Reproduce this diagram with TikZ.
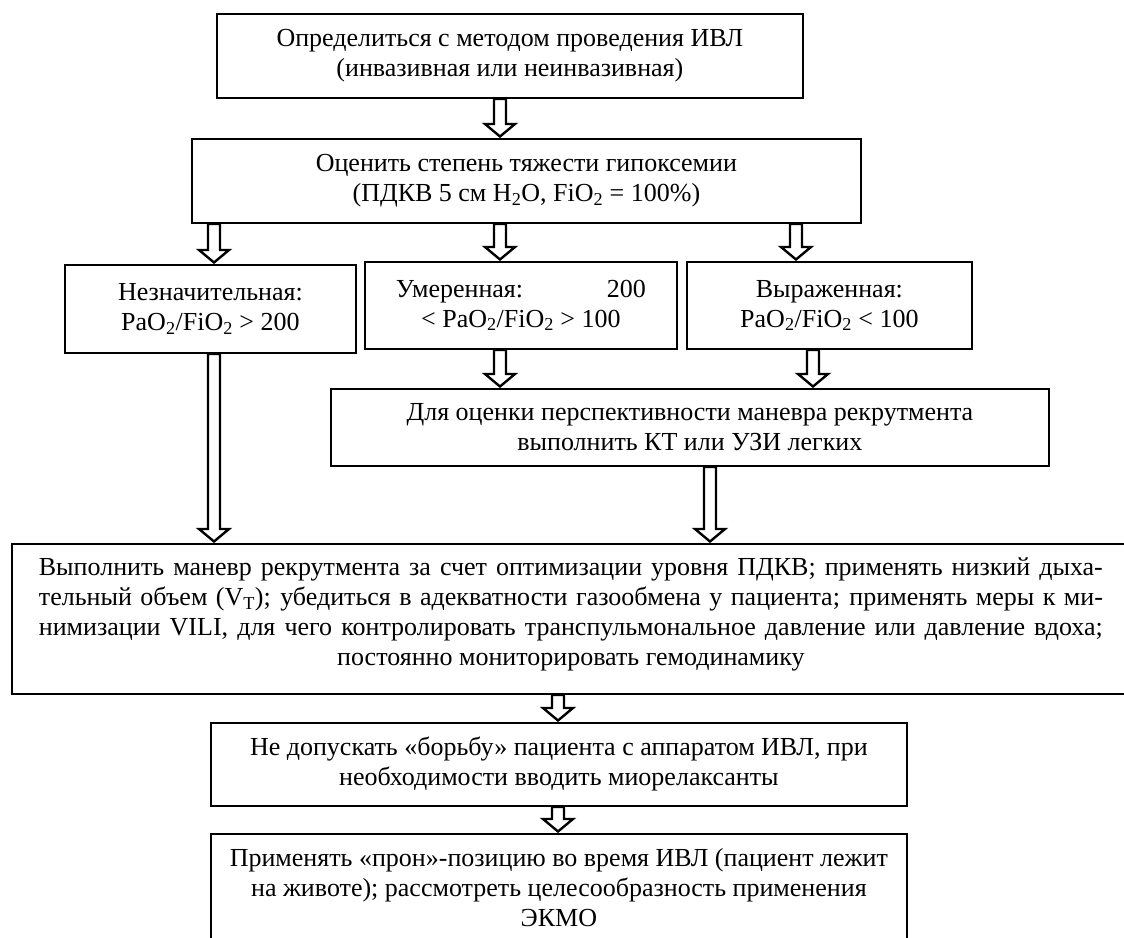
\documentclass[tikz,border=0pt]{standalone}
\usepackage{fontspec}
\setmainfont{Liberation Serif}
\usetikzlibrary{calc}
\newcommand{\fs}{\fontsize{26pt}{30pt}\selectfont}
\newcommand{\sub}[1]{\textsubscript{#1}}
\tikzset{
  box/.style={draw, line width=1.8pt, inner sep=0pt, align=center, anchor=north west, font=\fs},
  blockarrow/.style={draw=black, line width=2.4pt, fill=white, miter limit=10,
    to path={let \p1=(\tikztostart), \p2=(\tikztotarget) in
      (\x1-6pt,\y1) -- (\x1-6pt,\y2+14pt) -- (\x1-15pt,\y2+14pt) -- (\x1,\y2+1.5pt)
      -- (\x1+15pt,\y2+14pt) -- (\x1+6pt,\y2+14pt) -- (\x1+6pt,\y1) -- cycle}}
}
\begin{document}
\begin{tikzpicture}[x=1pt,y=-1pt]
\clip (0,0) rectangle (1124,937);
\fill[white] (0,0) rectangle (1124,937);

\node[box, minimum width=586pt, minimum height=84pt] (b1) at (216,13)
  {Определиться с методом проведения ИВЛ\\(инвазивная или неинвазивная)};
\node[box, minimum width=669pt, minimum height=84pt] (b2) at (191,138)
  {Оценить степень тяжести гипоксемии\\(ПДКВ 5 см H\sub{2}O, FiO\sub{2} = 100\%)};
\node[box, minimum width=291pt, minimum height=88pt] (n3a) at (64,264)
  {Незначительная:\\PaO\sub{2}/FiO\sub{2} > 200};
\node[box, minimum width=312pt, minimum height=87pt] (n3b) at (364,261)
  {\hbox to 250pt{Умеренная:\hfill 200}\\< PaO\sub{2}/FiO\sub{2} > 100};
\node[box, minimum width=285pt, minimum height=87pt] (n3c) at (686,261)
  {Выраженная:\\PaO\sub{2}/FiO\sub{2} < 100};
\node[box, minimum width=718pt, minimum height=77pt] (b4) at (330,388)
  {Для оценки перспективности маневра рекрутмента\\выполнить КТ или УЗИ легких};
\node[box, minimum width=1118pt, minimum height=150pt, text depth=15pt] (b5) at (11,543)
  {\hbox to 1064pt{Выполнить маневр рекрутмента за счет оптимизации уровня ПДКВ; применять низкий дыха-}\\
   \hbox to 1064pt{тельный объем (V\sub{T}); убедиться в адекватности газообмена у пациента; применять меры к ми-}\\
   \hbox to 1064pt{нимизации VILI, для чего контролировать транспульмональное давление или давление вдоха;}\\
   постоянно мониторировать гемодинамику};
\node[box, minimum width=696pt, minimum height=83pt] (b6) at (210,722)
  {Не допускать «борьбу» пациента с аппаратом ИВЛ, при\\необходимости вводить миорелаксанты};
\node[box, minimum width=696pt, minimum height=108pt] (b7) at (210,833)
  {Применять «прон»-позицию во время ИВЛ (пациент лежит\\на животе); рассмотреть целесообразность применения\\ЭКМО};

\coordinate (xa) at (214,0);
\coordinate (xb) at (500,0);
\coordinate (xc) at (796,0);
\coordinate (xd) at (813,0);
\coordinate (xe) at (710,0);
\coordinate (xf) at (558,0);

\draw[blockarrow] (b1.south -| xb) to (b2.north -| xb);
\draw[blockarrow] (b2.south -| xa) to (n3a.north -| xa);
\draw[blockarrow] (b2.south -| xb) to (n3b.north -| xb);
\draw[blockarrow] (b2.south -| xc) to (n3c.north -| xc);
\draw[blockarrow] (n3b.south -| xb) to (b4.north -| xb);
\draw[blockarrow] (n3c.south -| xd) to (b4.north -| xd);
\draw[blockarrow] (n3a.south -| xa) to (b5.north -| xa);
\draw[blockarrow] (b4.south -| xe) to (b5.north -| xe);
\draw[blockarrow] (b5.south -| xf) to (b6.north -| xf);
\draw[blockarrow] (b6.south -| xf) to (b7.north -| xf);
\end{tikzpicture}
\end{document}
